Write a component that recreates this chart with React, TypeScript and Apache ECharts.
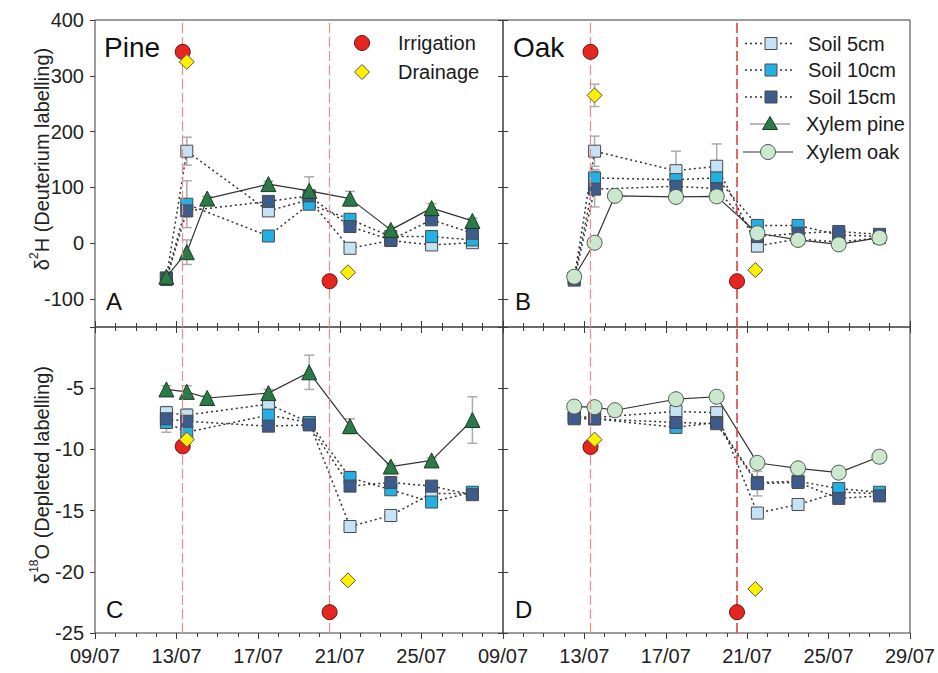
import React, { useEffect, useRef } from "react";
import * as echarts from "echarts";

// ---- axis labels ----
const dateLabels = ["09/07", "13/07", "17/07", "21/07", "25/07", "29/07"];

// ---- sampling / event days (days after 09/07) ----
const xylemDays = [3.5, 4.5, 5.5, 8.5, 10.5, 12.5, 14.5, 16.5, 18.5];
const soilDays = [3.5, 4.5, 8.5, 10.5, 12.5, 14.5, 16.5, 18.5];
const irrigationDays = [4.3, 11.5];
const drainageDays = [4.5, 12.4];

// ---- A: Pine, deuterium labelling (δ2H) ----
const pineH_soil5 = [-62, 165, 58, 78, -9, 5, -3, 1];
const pineH_soil10 = [-63, 70, 13, 70, 43, 12, 12, 6];
const pineH_soil15 = [-65, 58, 75, 85, 30, 6, 42, 18];
const pineH_xylem = [-60, -16, 80, 106, 94, 80, 24, 63, 40];
const pineH_irrigation = [343, -68];
const pineH_drainage = [325, -52];
const pineH_soil5Err = [3, 25, 8, 10, 5, 4, 5, 4];
const pineH_soil10Err = [3, 42, 8, 6, 6, 4, 8, 5];
const pineH_soil15Err = [3, 10, 6, 8, 8, 5, 6, 5];
const pineH_xylemErr = [3, 22, 4, 5, 25, 13, 5, 8, 5];

// ---- B: Oak, deuterium labelling (δ2H) ----
const oakH_soil5 = [-62, 165, 130, 138, -5, 8, 2, 10];
const oakH_soil10 = [-63, 117, 114, 117, 32, 32, 15, 12];
const oakH_soil15 = [-66, 97, 102, 98, 12, 18, 21, 16];
const oakH_xylem = [-60, 1, 85, 83, 84, 18, 6, -2, 10];
const oakH_irrigation = [343, -68];
const oakH_drainage = [265, -48];
const oakH_soil5Err = [3, 27, 35, 40, 10, 5, 5, 5];
const oakH_soil10Err = [3, 15, 10, 8, 6, 5, 5, 5];
const oakH_soil15Err = [3, 32, 8, 8, 6, 5, 5, 5];
const oakH_xylemErr = [3, 5, 5, 8, 5, 5, 5, 8, 5];
const oakH_drainageErr = [20, 0];

// ---- C: Pine, depleted labelling (δ18O) ----
const pineO_soil5 = [-7.0, -7.2, -6.3, -7.8, -16.3, -15.4, -13.6, -13.6];
const pineO_soil10 = [-7.8, -8.6, -7.2, -7.8, -12.3, -13.3, -14.3, -13.5];
const pineO_soil15 = [-7.5, -7.7, -8.1, -8.0, -13.0, -12.7, -13.0, -13.7];
const pineO_xylem = [-5.1, -5.3, -5.8, -5.4, -3.7, -8.1, -11.4, -10.9, -7.6];
const pineO_irrigation = [-9.75, -23.3];
const pineO_drainage = [-9.2, -20.7];
const pineO_soil5Err = [0.5, 0.5, 0.4, 0.3, 0.3, 0.4, 0.3, 0.3];
const pineO_soil10Err = [0.8, 0.5, 0.4, 0.3, 0.5, 0.3, 0.3, 0.3];
const pineO_soil15Err = [0.3, 0.3, 0.4, 0.3, 0.4, 0.3, 0.3, 0.3];
const pineO_xylemErr = [0.3, 0.5, 0.2, 0.3, 1.4, 0.6, 0.2, 0.2, 1.9];

// ---- D: Oak, depleted labelling (δ18O) ----
const oakO_soil5 = [-7.3, -7.4, -6.9, -7.0, -15.2, -14.5, -13.5, -13.6];
const oakO_soil10 = [-7.4, -7.5, -8.2, -7.8, -12.7, -12.6, -13.2, -13.5];
const oakO_soil15 = [-7.5, -7.5, -7.8, -7.9, -12.8, -12.7, -14.0, -13.8];
const oakO_xylem = [-6.5, -6.55, -6.8, -5.9, -5.7, -11.1, -11.55, -11.9, -10.6];
const oakO_irrigation = [-9.8, -23.3];
const oakO_drainage = [-9.2, -21.4];
const oakO_soil5Err = [0.3, 0.3, 0.3, 0.3, 0.3, 0.4, 0.3, 0.3];
const oakO_soil10Err = [0.3, 0.3, 0.3, 0.3, 0.3, 0.3, 0.3, 0.3];
const oakO_soil15Err = [0.3, 0.3, 0.3, 0.3, 1.0, 0.3, 0.3, 0.4];
const oakO_xylemErr = [0.4, 0.2, 0.2, 0.2, 0.2, 0.3, 0.3, 0.2, 0.5];

// ---- styling ----
const FONT = '"Liberation Sans", Arial, sans-serif';
const NARROW = '"Liberation Sans Narrow", "Arial Narrow", "Liberation Sans", Arial, sans-serif';
const C_SOIL5 = "#c6e3f6";
const C_SOIL10 = "#22b1e2";
const C_SOIL15 = "#3d5c8c";
const C_PINE = "#2b7a48";
const C_OAK = "#cbe7cd";
const C_IRR = "#e52620";
const C_DRAIN = "#fff000";
const C_AXIS = "#3a3a3a";
const C_ERR = "#ababab";

const pair = (xs: number[], ys: number[]) => xs.map((x, i) => [x, ys[i]]);
const triple = (xs: number[], ys: number[], es: number[]) =>
  xs.map((x, i) => [x, ys[i], es[i]]).filter((d) => d[2] > 0);

const dayLabel = (hideLast: boolean) => (v: number) => {
  if (hideLast && v === 20) return "";
  const idx = Math.round(v / 4);
  return Math.abs(v - idx * 4) < 1e-6 ? dateLabels[idx] : "";
};

function errorSeries(axis: number, data: number[][]) {
  return {
    type: "custom",
    xAxisIndex: axis,
    yAxisIndex: axis,
    silent: true,
    z: 1,
    encode: { x: 0, y: 1 },
    data,
    renderItem: (_params: any, api: any) => {
      const x = api.value(0);
      const y = api.value(1);
      const e = api.value(2);
      const hi = api.coord([x, y + e]);
      const lo = api.coord([x, y - e]);
      const w = 5;
      const style = { stroke: C_ERR, lineWidth: 1.5 };
      return {
        type: "group",
        children: [
          { type: "line", shape: { x1: hi[0], y1: hi[1], x2: lo[0], y2: lo[1] }, style },
          { type: "line", shape: { x1: hi[0] - w, y1: hi[1], x2: hi[0] + w, y2: hi[1] }, style },
          { type: "line", shape: { x1: lo[0] - w, y1: lo[1], x2: lo[0] + w, y2: lo[1] }, style },
        ],
      };
    },
  };
}

function soilSeries(axis: number, name: string, color: string, vals: number[], withMarkLine: boolean, darkSecond: boolean) {
  const s: any = {
    type: "line",
    name,
    xAxisIndex: axis,
    yAxisIndex: axis,
    data: pair(soilDays, vals),
    symbol: "rect",
    symbolSize: 12,
    itemStyle: { color, borderColor: "#4a4a4a", borderWidth: 1 },
    lineStyle: { type: [2, 3], color: "#333", width: 1.5 },
    emphasis: { disabled: true },
    z: 3,
  };
  if (withMarkLine) {
    s.markLine = {
      silent: true,
      symbol: "none",
      label: { show: false },
      data: [
        { xAxis: irrigationDays[0], lineStyle: { color: "#f28a8a", width: 1.2, type: [10, 4] } },
        {
          xAxis: irrigationDays[1],
          lineStyle: darkSecond
            ? { color: "#e0403e", width: 1.6, type: [10, 4] }
            : { color: "#f28a8a", width: 1.2, type: [10, 4] },
        },
      ],
    };
  }
  return s;
}

function xylemSeries(axis: number, name: string, pine: boolean, vals: number[]) {
  return {
    type: "line",
    name,
    xAxisIndex: axis,
    yAxisIndex: axis,
    data: pair(xylemDays, vals),
    symbol: pine ? "triangle" : "circle",
    symbolSize: 15,
    itemStyle: pine
      ? { color: C_PINE, borderColor: "#173d24", borderWidth: 1 }
      : { color: C_OAK, borderColor: "#505a50", borderWidth: 1 },
    lineStyle: { color: "#333", width: 1.2 },
    emphasis: { disabled: true },
    z: 4,
  };
}

function eventSeries(axis: number, irr: number[], drain: number[]) {
  return [
    {
      type: "scatter",
      name: "Irrigation",
      xAxisIndex: axis,
      yAxisIndex: axis,
      data: pair(irrigationDays, irr),
      symbol: "circle",
      symbolSize: 15,
      itemStyle: { color: C_IRR, borderColor: "#6b1010", borderWidth: 1, opacity: 1 },
      emphasis: { disabled: true },
      z: 5,
    },
    {
      type: "scatter",
      name: "Drainage",
      xAxisIndex: axis,
      yAxisIndex: axis,
      data: pair(drainageDays, drain),
      symbol: "diamond",
      symbolSize: 15,
      itemStyle: { color: C_DRAIN, borderColor: "#555", borderWidth: 1, opacity: 1 },
      emphasis: { disabled: true },
      z: 5,
    },
  ];
}

function buildPanel(
  axis: number,
  pine: boolean,
  s5: number[], s10: number[], s15: number[], xy: number[],
  e5: number[], e10: number[], e15: number[], exy: number[],
  irr: number[], drain: number[], darkSecond: boolean, drainErr?: number[]
) {
  const errs = [
    ...triple(soilDays, s5, e5),
    ...triple(soilDays, s10, e10),
    ...triple(soilDays, s15, e15),
    ...triple(xylemDays, xy, exy),
    ...(drainErr ? triple(drainageDays, drain, drainErr) : []),
  ];
  return [
    errorSeries(axis, errs),
    soilSeries(axis, "Soil 5cm", C_SOIL5, s5, true, darkSecond),
    soilSeries(axis, "Soil 10cm", C_SOIL10, s10, false, false),
    soilSeries(axis, "Soil 15cm", C_SOIL15, s15, false, false),
    xylemSeries(axis, pine ? "Xylem pine" : "Xylem oak", pine, xy),
    ...eventSeries(axis, irr, drain),
  ];
}

function dayAxis(gridIndex: number, position: "top" | "bottom", inside: boolean, labels: boolean, hideLast: boolean) {
  return {
    type: "value",
    gridIndex,
    position,
    min: 0,
    max: 20,
    interval: 4,
    axisLine: { show: false, onZero: false },
    splitLine: { show: false },
    axisTick: { show: true, inside, length: 6, lineStyle: { color: C_AXIS, width: 1 } },
    minorTick: { show: true, splitNumber: 4, length: 4, lineStyle: { color: C_AXIS, width: 1 } },
    axisLabel: labels
      ? { show: true, formatter: dayLabel(hideLast), fontFamily: NARROW, fontSize: 20, color: "#222", margin: 13 }
      : { show: false },
  };
}

function valueAxis(gridIndex: number, position: "left" | "right", inside: boolean, labels: boolean, deuterium: boolean) {
  const range = deuterium ? { min: -150, max: 400, splitNumber: 5 } : { min: -25, max: 0, interval: 5 };
  return {
    type: "value",
    gridIndex,
    position,
    ...range,
    axisLine: { show: false, onZero: false },
    splitLine: { show: false },
    axisTick: { show: true, inside, length: 5, lineStyle: { color: C_AXIS, width: 1 } },
    axisLabel: labels
      ? {
          show: true,
          fontFamily: FONT,
          fontSize: 20,
          color: "#222",
          margin: 11,
          formatter: (v: number) => {
            if (deuterium) return v % 100 === 0 && v > -150 ? String(v) : "";
            return v < 0 ? String(v) : "";
          },
        }
      : { show: false },
  };
}

function legendGraphics() {
  const g: any[] = [];
  const txt = (x: number, y: number, text: string) => ({
    type: "text",
    x,
    y,
    style: { text, fontFamily: FONT, fontSize: 20, fill: "#1a1a1a", align: "left", verticalAlign: "middle" },
  });
  // Irrigation / Drainage key
  g.push({ type: "circle", shape: { cx: 362, cy: 43, r: 7.5 }, style: { fill: C_IRR, stroke: "#6b1010", lineWidth: 1 } });
  g.push(txt(398, 43, "Irrigation"));
  g.push({
    type: "polygon",
    shape: { points: [[362, 64.5], [369.5, 72], [362, 79.5], [354.5, 72]] },
    style: { fill: C_DRAIN, stroke: "#555", lineWidth: 1 },
  });
  g.push(txt(398, 72, "Drainage"));

  // Soil / xylem key
  const soilRows: [string, string, number][] = [
    ["Soil 5cm", C_SOIL5, 43.5],
    ["Soil 10cm", C_SOIL10, 70],
    ["Soil 15cm", C_SOIL15, 97],
  ];
  soilRows.forEach(([name, color, y]) => {
    g.push({
      type: "line",
      shape: { x1: 745, y1: y, x2: 793, y2: y },
      style: { stroke: "#333", lineWidth: 1.5, lineDash: [2, 3] },
    });
    g.push({ type: "rect", shape: { x: 765, y: y - 6, width: 12, height: 12 }, style: { fill: color, stroke: "#4a4a4a", lineWidth: 1 } });
    g.push(txt(808, y, name));
  });
  g.push({ type: "line", shape: { x1: 750, y1: 124, x2: 790, y2: 124 }, style: { stroke: "#777", lineWidth: 1.2 } });
  g.push({
    type: "polygon",
    shape: { points: [[770, 116.5], [777.5, 129.5], [762.5, 129.5]] },
    style: { fill: C_PINE, stroke: "#173d24", lineWidth: 1 },
  });
  g.push(txt(806, 124, "Xylem pine"));
  g.push({ type: "line", shape: { x1: 743, y1: 152, x2: 793, y2: 152 }, style: { stroke: "#333", lineWidth: 1.2 } });
  g.push({ type: "circle", shape: { cx: 768, cy: 152, r: 7.5 }, style: { fill: C_OAK, stroke: "#505a50", lineWidth: 1 } });
  g.push(txt(806, 152, "Xylem oak"));
  return g;
}

function labelGraphics() {
  const big = (x: number, y: number, text: string) => ({
    type: "text",
    x,
    y,
    style: { text, fontFamily: FONT, fontSize: 28, fill: "#111", align: "left", verticalAlign: "middle" },
  });
  const letter = (x: number, y: number, text: string) => ({
    type: "text",
    x,
    y,
    style: { text, fontFamily: FONT, fontSize: 24, fill: "#111", align: "left", verticalAlign: "middle" },
  });
  const rich = {
    a: { fontFamily: FONT, fontSize: 20, fill: "#222", lineHeight: 24, verticalAlign: "bottom" },
    s: { fontFamily: FONT, fontSize: 12, fill: "#222", lineHeight: 24, verticalAlign: "top" },
  };
  return [
    big(104, 47, "Pine"),
    big(513, 47, "Oak"),
    letter(106, 301, "A"),
    letter(515, 301, "B"),
    letter(106, 609, "C"),
    letter(515, 609, "D"),
    {
      type: "text",
      x: 40,
      y: 159,
      rotation: Math.PI / 2,
      style: { text: "{a|δ}{s|2}{a|H (Deuterium labelling)}", rich, align: "center", verticalAlign: "middle" },
    },
    {
      type: "text",
      x: 40,
      y: 475,
      rotation: Math.PI / 2,
      style: { text: "{a|δ}{s|18}{a|O (Depleted labelling)}", rich, align: "center", verticalAlign: "middle" },
    },
  ];
}

export default function App() {
  const ref = useRef<HTMLDivElement>(null);

  useEffect(() => {
    document.body.style.margin = "0";
    if (!ref.current) return;
    const chart = echarts.init(ref.current, undefined, { renderer: "svg" });

    const gridStyle = { show: true, borderColor: C_AXIS, borderWidth: 1, backgroundColor: "transparent", containLabel: false };

    const option: any = {
      animation: false,
      backgroundColor: "#ffffff",
      textStyle: { fontFamily: FONT },
      grid: [
        { ...gridStyle, left: 95, top: 20, width: 408, height: 307 },
        { ...gridStyle, left: 503, top: 20, width: 407, height: 307 },
        { ...gridStyle, left: 95, top: 327, width: 408, height: 306 },
        { ...gridStyle, left: 503, top: 327, width: 407, height: 306 },
      ],
      xAxis: [
        dayAxis(0, "bottom", true, false, false),
        dayAxis(1, "bottom", true, false, false),
        dayAxis(2, "bottom", false, true, true),
        dayAxis(3, "bottom", false, true, false),
        dayAxis(2, "top", true, false, false),
        dayAxis(3, "top", true, false, false),
      ],
      yAxis: [
        valueAxis(0, "left", false, true, true),
        valueAxis(1, "left", true, false, true),
        valueAxis(2, "left", false, true, false),
        valueAxis(3, "left", true, false, false),
        valueAxis(0, "right", true, false, true),
        valueAxis(2, "right", true, false, false),
      ],
      series: [
        ...buildPanel(0, true, pineH_soil5, pineH_soil10, pineH_soil15, pineH_xylem,
          pineH_soil5Err, pineH_soil10Err, pineH_soil15Err, pineH_xylemErr,
          pineH_irrigation, pineH_drainage, false),
        ...buildPanel(1, false, oakH_soil5, oakH_soil10, oakH_soil15, oakH_xylem,
          oakH_soil5Err, oakH_soil10Err, oakH_soil15Err, oakH_xylemErr,
          oakH_irrigation, oakH_drainage, true, oakH_drainageErr),
        ...buildPanel(2, true, pineO_soil5, pineO_soil10, pineO_soil15, pineO_xylem,
          pineO_soil5Err, pineO_soil10Err, pineO_soil15Err, pineO_xylemErr,
          pineO_irrigation, pineO_drainage, false),
        ...buildPanel(3, false, oakO_soil5, oakO_soil10, oakO_soil15, oakO_xylem,
          oakO_soil5Err, oakO_soil10Err, oakO_soil15Err, oakO_xylemErr,
          oakO_irrigation, oakO_drainage, true),
      ],
      graphic: [...labelGraphics(), ...legendGraphics()],
    };

    chart.setOption(option);
    return () => chart.dispose();
  }, []);

  return <div ref={ref} style={{ width: 938, height: 673 }} />;
}
